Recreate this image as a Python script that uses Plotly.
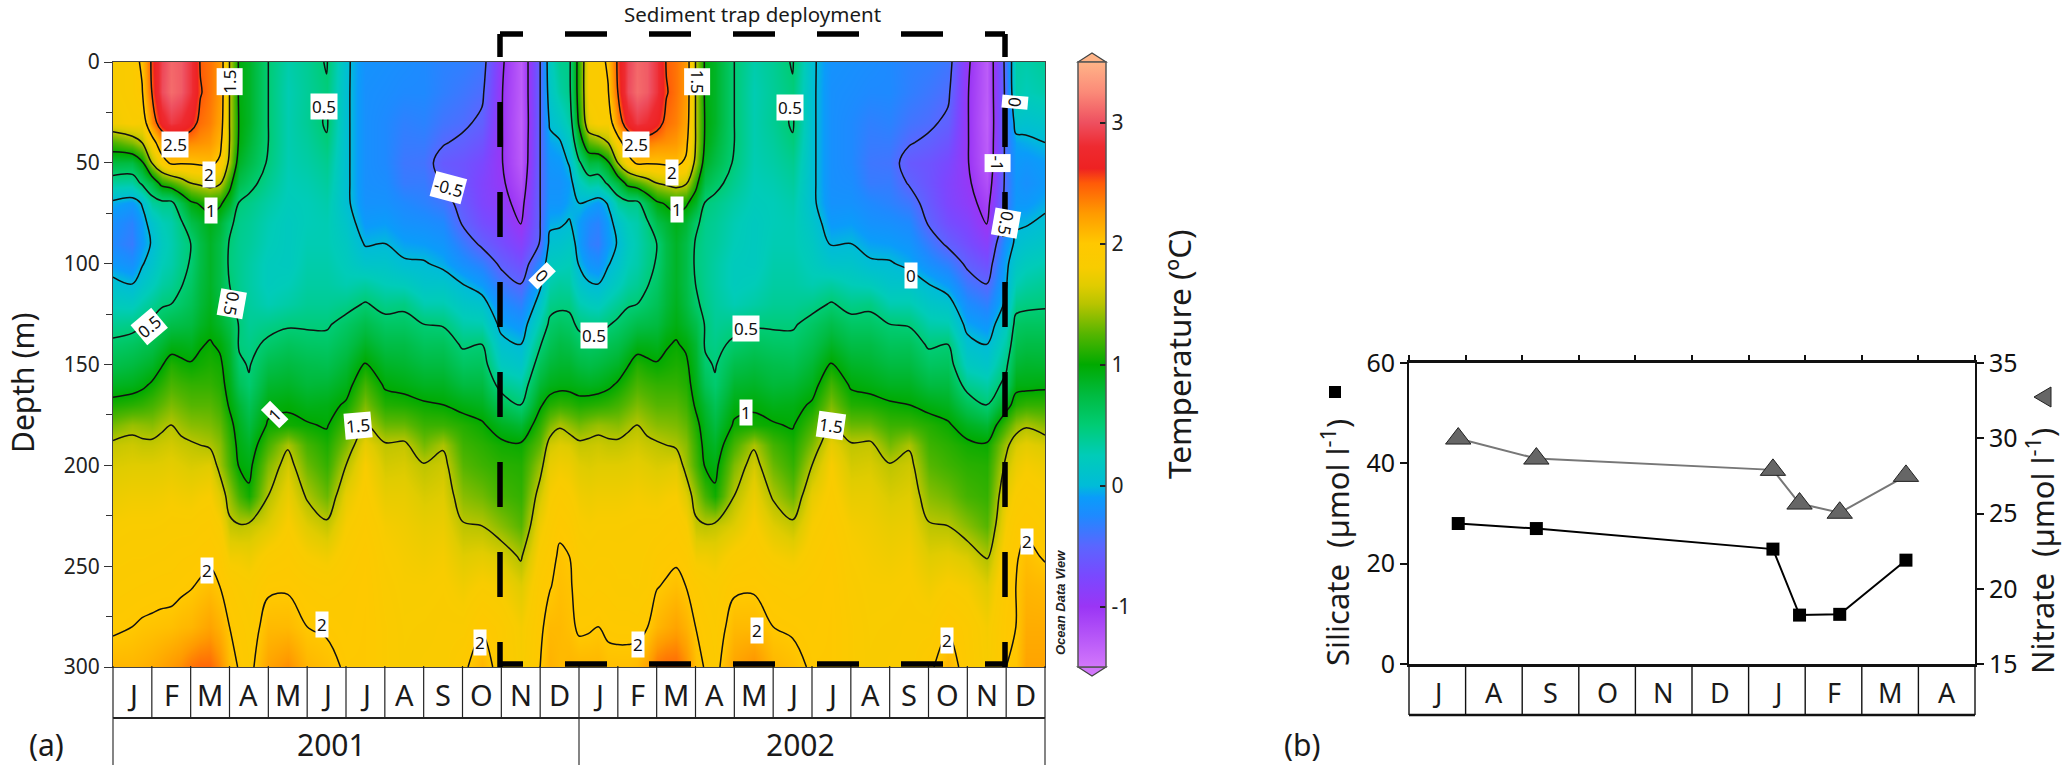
import numpy as np
import plotly.graph_objects as go

W, H = 2067, 766
FONT = "Noto Sans"

# ---------- data, panel (a): temperature profiles ----------
DEPTHS = [0, 15, 30, 40, 50, 60, 70, 80, 90, 100, 110, 120, 130, 140, 150, 160, 170, 180, 190, 200, 215, 230, 245, 260, 280, 300]

P0000 = [1.8,1.8,1.75,1.2,.75,.35,-.05,-.2,-.25,-.12,.06,.22,.39,.55,.7,.87,1.08,1.33,1.55,1.63,1.72,1.8,1.85,1.9,1.97,2.1]
P0050 = [1.87,1.87,1.82,1.35,.73,.33,-.12,-.3,-.35,-.2,0,.2,.42,.6,.75,.9,1.12,1.42,1.58,1.65,1.75,1.82,1.87,1.92,2,2.1]
P0075 = [2.05,1.98,1.8,1.5,.95,.55,.02,-.1,-.12,-.02,.12,.3,.48,.65,.8,.95,1.15,1.4,1.55,1.65,1.75,1.82,1.87,1.93,2.02,2.12]
P0100 = [2.55,2.5,2.3,1.85,1.5,.75,.35,.1,.02,.1,.22,.38,.55,.7,.85,1.03,1.2,1.38,1.55,1.65,1.75,1.82,1.88,1.94,2.03,2.15]
P0125 = [2.95,2.98,2.7,2.2,1.85,1.1,.42,.25,.2,.25,.33,.47,.63,.8,.98,1.13,1.28,1.45,1.58,1.66,1.76,1.83,1.89,1.95,2.04,2.2]
P0150 = [3.1,3.12,2.88,2.35,2.05,1.2,.42,.3,.28,.3,.38,.5,.7,.9,1.1,1.22,1.35,1.5,1.6,1.68,1.78,1.85,1.9,1.95,2.05,2.25]
P0175 = [3.05,3.05,2.8,2.35,2.03,1.35,.7,.45,.4,.42,.48,.57,.72,.9,1.05,1.18,1.3,1.43,1.56,1.65,1.76,1.85,1.92,1.97,2.08,2.3]
P0200 = [2.85,2.85,2.65,2.3,2.03,1.5,.95,.7,.5,.52,.58,.65,.75,.88,1.02,1.15,1.25,1.38,1.53,1.62,1.75,1.85,1.93,1.99,2.1,2.4]
P0225 = [2.48,2.52,2.42,2.28,2.05,1.56,1.03,.8,.72,.72,.75,.78,.85,.98,1.05,1.15,1.25,1.37,1.5,1.63,1.78,1.88,1.95,2.02,2.15,2.45]
P0250 = [2.4,2.4,2.35,2.25,2.07,1.62,1.1,.9,.85,.85,.85,.88,.93,1.02,1.08,1.15,1.25,1.35,1.47,1.65,1.8,1.9,1.97,2.05,2.2,2.45]
P0275 = [2.25,2.25,2.2,2.1,1.95,1.55,1.05,.8,.72,.72,.72,.75,.83,.96,1.05,1.1,1.18,1.28,1.38,1.43,1.65,1.82,1.93,2.0,2.12,2.3]
P0300 = [1.5,1.5,1.5,1.5,1.42,1.1,.85,.55,.48,.46,.5,.55,.7,.8,.85,.9,.97,1.08,1.15,1.2,1.4,1.55,1.75,1.93,2.0,2.05]
P0325 = [.95,.95,.97,.95,.85,.7,.48,.42,.4,.4,.4,.43,.48,.47,.55,.65,.8,.88,.93,.98,1.2,1.52,1.75,1.88,1.95,1.99]
P0350 = [.85,.85,.85,.8,.72,.58,.43,.38,.36,.33,.33,.35,.38,.43,.48,.53,.65,.75,.85,.93,1.05,1.55,1.72,1.85,1.9,1.93]
P0400 = [.5,.5,.5,.5,.47,.4,.32,.27,.25,.22,.22,.27,.42,.55,.7,.82,.93,1.03,1.2,1.35,1.5,1.65,1.85,1.97,2.08,2.2]
P0450 = [.3,.27,.28,.28,.27,.25,.23,.2,.2,.2,.25,.32,.47,.62,.75,.85,.97,1.05,1.47,1.6,1.72,1.82,1.9,1.98,2.08,2.3]
P0500 = [.38,.37,.38,.35,.32,.28,.25,.25,.27,.3,.33,.38,.47,.58,.7,.78,.9,1.02,1.2,1.3,1.47,1.65,1.8,1.93,2.0,2.1]
P0550 = [.52,.47,.53,.47,.4,.35,.3,.27,.27,.3,.33,.38,.47,.57,.68,.8,.92,.98,1.08,1.15,1.3,1.55,1.75,1.9,1.98,2.05]
P0600 = [.05,.05,.05,.05,.05,.05,.05,.12,.18,.22,.28,.42,.58,.68,.8,.9,1.03,1.2,1.35,1.5,1.7,1.8,1.87,1.93,1.95,1.98]
P0650 = [-.18,-.2,-.2,-.2,-.2,-.2,-.18,-.12,-.02,.12,.33,.52,.7,.85,1.02,1.2,1.35,1.52,1.7,1.8,1.85,1.9,1.95,1.97,1.98,1.98]
P0700 = [-.2,-.22,-.25,-.25,-.25,-.22,-.18,-.1,0,.12,.25,.42,.58,.72,.85,.97,1.1,1.3,1.53,1.6,1.7,1.78,1.82,1.85,1.88,1.88]
P0750 = [-.22,-.25,-.32,-.35,-.38,-.35,-.25,-.18,-.08,.03,.22,.45,.58,.72,.82,.93,1.08,1.3,1.55,1.62,1.7,1.75,1.78,1.8,1.82,1.83]
P0800 = [-.25,-.25,-.3,-.35,-.4,-.35,-.3,-.2,-.1,.02,.12,.28,.5,.62,.75,.87,1.03,1.17,1.33,1.52,1.62,1.7,1.75,1.8,1.83,1.85]
P0850 = [-.3,-.32,-.4,-.48,-.6,-.52,-.38,-.25,-.15,-.05,.12,.28,.48,.63,.75,.87,1,1.17,1.47,1.58,1.65,1.72,1.78,1.82,1.85,1.85]
P0900 = [-.32,-.38,-.45,-.55,-.65,-.65,-.6,-.52,-.35,-.2,0,.15,.3,.47,.6,.75,.93,1.1,1.18,1.25,1.38,1.52,1.65,1.75,1.85,1.96]
P0950 = [-.38,-.45,-.55,-.65,-.75,-.8,-.78,-.7,-.55,-.32,-.12,.1,.28,.5,.62,.75,.88,1.03,1.12,1.18,1.32,1.5,1.68,1.82,1.98,2.1]
P1000 = [-.95,-.98,-.98,-.98,-.98,-.95,-.9,-.8,-.7,-.55,-.38,-.22,-.07,.07,.2,.4,.65,.88,1.05,1.12,1.2,1.38,1.62,1.78,1.9,1.92]
P1050 = [-1.3,-1.3,-1.32,-1.3,-1.28,-1.2,-1.1,-1.02,-.85,-.68,-.5,-.32,-.15,0,.13,.32,.5,.8,1.03,1.1,1.15,1.25,1.47,1.65,1.78,1.8]
P1100 = [-.5,-.5,-.5,-.5,-.5,-.5,-.5,-.5,-.48,-.25,-.05,.12,.3,.48,.65,.8,.97,1.13,1.27,1.42,1.6,1.75,1.85,1.92,1.96,2.0]
P1125 = [.2,.15,.04,-.08,-.15,-.18,-.15,-.05,.08,.2,.3,.42,.55,.65,.78,.9,1.1,1.35,1.6,1.7,1.8,1.87,1.93,1.99,2.08,2.12]
P1150 = [.4,.33,.15,-.03,-.12,-.18,-.15,-.03,.1,.22,.35,.45,.6,.73,.82,.93,1.15,1.47,1.65,1.75,1.87,1.96,2.03,2.05,2.08,2.08]
P1175 = [.43,.42,.3,.15,.02,-.1,-.07,.02,.15,.25,.33,.45,.57,.7,.82,.93,1.13,1.4,1.63,1.73,1.83,1.92,2.0,2.03,2.05,2.1]
P1200 = [1.15,1.15,1.05,.8,.45,.2,0,-.1,-.1,-.02,.12,.28,.45,.6,.75,.9,1.08,1.33,1.55,1.65,1.75,1.82,1.87,1.92,1.97,2.1]
P1225 = [1.85,1.85,1.75,1.25,.75,.35,-.05,-.25,-.3,-.15,.02,.22,.42,.58,.72,.88,1.1,1.38,1.56,1.63,1.73,1.8,1.85,1.9,1.98,2.1]
# early 2002 has its 2-degree line deeper than early 2001
P1275 = [2.05,1.98,1.8,1.5,.95,.55,.02,-.1,-.12,-.02,.12,.3,.48,.65,.8,.95,1.15,1.4,1.55,1.65,1.75,1.82,1.87,1.91,1.97,2.05]
P1300 = [2.55,2.5,2.3,1.85,1.5,.75,.35,.1,.02,.1,.22,.38,.55,.7,.85,1.03,1.2,1.38,1.55,1.65,1.75,1.82,1.86,1.88,1.96,2.05]
P1325 = [2.95,2.98,2.7,2.2,1.85,1.1,.42,.25,.2,.25,.33,.47,.63,.8,.98,1.13,1.28,1.45,1.58,1.66,1.76,1.83,1.86,1.88,1.96,2.05]
P1350 = [3.1,3.12,2.88,2.35,2.05,1.2,.42,.3,.28,.3,.38,.5,.7,.9,1.1,1.22,1.35,1.5,1.6,1.68,1.78,1.84,1.86,1.87,1.95,2.08]
P1375 = [3.05,3.05,2.8,2.35,2.03,1.35,.7,.45,.4,.42,.48,.57,.72,.9,1.05,1.18,1.3,1.43,1.56,1.65,1.76,1.85,1.88,1.9,1.99,2.2]
P2300 = [-.4,-.42,-.42,-.42,-.42,-.42,-.4,-.35,-.15,-.05,-.02,.05,.2,.32,.45,.58,.9,1.2,1.45,1.55,1.7,1.8,1.9,1.96,1.98,2.0]
P2325 = [.32,.3,.1,-.08,-.12,-.15,-.13,-.03,.05,.15,.27,.42,.58,.68,.8,.93,1.1,1.4,1.62,1.72,1.83,1.93,1.98,2.0,2.0,2.02]
P2350 = [.3,.25,.08,-.05,-.15,-.2,-.13,-.02,.1,.22,.33,.45,.6,.72,.83,.93,1.15,1.47,1.68,1.78,1.88,1.97,2.05,2.1,2.15,2.2]
P2400 = [.37,.3,.12,0,-.1,-.12,-.05,.05,.15,.27,.38,.47,.6,.72,.82,.95,1.15,1.38,1.62,1.73,1.83,1.9,1.98,2.08,2.15,2.2]

MONTHS_Y1 = [0, .5, .75, 1, 1.25, 1.5, 1.75, 2, 2.25, 2.5, 2.75, 3, 3.25, 3.5, 4, 4.5, 5, 5.5, 6, 6.5, 7, 7.5, 8, 8.5, 9, 9.5, 10, 10.5, 11, 11.25, 11.5, 11.75]
COLS_Y1 = [P0000, P0050, P0075, P0100, P0125, P0150, P0175, P0200, P0225, P0250, P0275, P0300, P0325, P0350, P0400, P0450, P0500, P0550, P0600,
           P0650, P0700, P0750, P0800, P0850, P0900, P0950, P1000, P1050, P1100, P1125, P1150, P1175]
# the second year: same seasonal profiles, its own January start and December end
MONTHS_Y2 = [12, 12.25, 12.5, 12.75, 13, 13.25, 13.5, 13.75] + [m + 12 for m in MONTHS_Y1[7:28]] + [23, 23.25, 23.5, 24]
COLS_Y2 = [P1200, P1225, P0050, P1275, P1300, P1325, P1350, P1375] + COLS_Y1[7:28] + [P2300, P2325, P2350, P2400]

MONTH_LETTERS = list("JFMAMJJASOND")
YEARS = ["2001", "2002"]

# ---------- data, panel (b) ----------
B_MONTHS = list("JASONDJFMA")
SAMPLE_POS = [0.87, 2.25, 6.43, 6.90, 7.61, 8.78]
SILICATE = [28.0, 27.0, 22.9, 9.75, 9.9, 20.7]
NITRATE = [29.98, 28.65, 27.9, 25.66, 25.05, 27.5]

# contour labels: text, month position, depth, angle
LABELS = [
    ("2.5",1.6,40.7,0),("2",2.48,55.7,0),("1",2.52,73.4,0),("1.5",3.01,9.8,-90),("0.5",5.43,22,0),
    ("-0.5",8.63,62,15),("0",11.04,106,45),("0.5",3.07,120,100),("0.5",.93,131,-40),("1",4.17,175,-45),
    ("1.5",6.32,180,-5),("2",2.43,252,0),("2",5.38,279,0),("2",9.45,288,0),
    ("2.5",13.48,40.7,0),("2",14.4,55,0),("1",14.53,73,0),("1.5",15.05,10,90),("0.5",17.43,22.6,0),
    ("0",20.56,106,0),("0.5",12.39,135.5,0),("0.5",16.31,132,0),("1",16.29,174,0),("1.5",18.5,180,8),
    ("2",13.52,289,0),("2",16.58,282,0),("2",21.48,287,0),("2",23.54,238,0),
    ("-1",22.77,50,90),("0",23.23,20,95),("0.5",23.0,80,100),
]

COLORSCALE_STOPS = [
    (-1.5,"#d277fb"),(-1.0,"#9a35f5"),(-.75,"#7a48ff"),(-.5,"#5a66ff"),(-.25,"#1e8aff"),(-.1,"#0a9cfa"),
    (0,"#00bcd8"),(.25,"#00ccb8"),(.5,"#00cc74"),(.75,"#00bb40"),(1,"#00aa00"),(1.25,"#55b500"),
    (1.5,"#b8c400"),(1.65,"#e0cc00"),(1.8,"#f8cc00"),(2,"#ffc800"),(2.25,"#ff9a00"),(2.5,"#ff5a08"),(2.62,"#ee2222"),
    (2.8,"#ee2a30"),(3,"#ee5060"),(3.25,"#fb8a78"),(3.5,"#ffb488"),
]

# ---------- build ----------
x_m = list(MONTHS_Y1) + list(MONTHS_Y2)
z = np.array(list(COLS_Y1) + list(COLS_Y2)).T
cs = [[(v + 1.5) / 5, c] for v, c in COLORSCALE_STOPS]

xp = lambda px: px / W
yp = lambda py: 1 - py / H

fig = go.Figure()
fig.add_trace(go.Heatmap(
    x=x_m, y=DEPTHS, z=z, zsmooth="best", colorscale=cs, zmin=-1.5, zmax=3.5, xaxis="x", yaxis="y",
    hoverinfo="skip",
    colorbar=dict(x=xp(1078), xanchor="left", y=yp(364.5), yanchor="middle", len=605 / H, lenmode="fraction",
                  thickness=28, thicknessmode="pixels", xpad=0, ypad=0, outlinecolor="#555", outlinewidth=1.5,
                  tickvals=[-1, 0, 1, 2, 3], ticktext=["-1", "0", "1", "2", "3"], ticks="inside", ticklen=6, tickcolor="#222", tickwidth=1.5,
                  tickfont=dict(family=FONT, size=21, color="#222")),
))
fig.add_trace(go.Contour(
    x=x_m, y=DEPTHS, z=z, xaxis="x", yaxis="y", showscale=False, hoverinfo="skip",
    autocontour=False, contours=dict(start=-1, end=2.5, size=.5, coloring="none"),
    line=dict(color="#111", width=1.5, smoothing=1.0),
))
fig.add_trace(go.Scatter(
    x=SAMPLE_POS, y=NITRATE, xaxis="x2", yaxis="y3", mode="lines+markers", showlegend=False,
    line=dict(color="#777", width=2),
    marker=dict(symbol="triangle-up", size=22, color="#666", line=dict(color="#222", width=1)),
))
fig.add_trace(go.Scatter(
    x=SAMPLE_POS, y=SILICATE, xaxis="x2", yaxis="y2", mode="lines+markers", showlegend=False,
    line=dict(color="#000", width=2),
    marker=dict(symbol="square", size=13, color="#000"),
))

shapes, ann = [], []
def paper_line(x0, y0, x1, y1, color="#222", width=1.0, dash="solid"):
    shapes.append(dict(type="line", xref="paper", yref="paper", x0=xp(x0), x1=xp(x1), y0=yp(y0), y1=yp(y1),
                       line=dict(color=color, width=width, dash=dash)))
def text(t, x, y, size, angle=0, color="#1a1a1a", **kw):
    ann.append(dict(text=t, xref="paper", yref="paper", x=xp(x), y=yp(y), showarrow=False, textangle=angle,
                    font=dict(family=kw.pop("family", FONT), size=size, color=color),
                    xanchor="center", yanchor="middle", **kw))

# panel (a) month boxes and year row
mw = 932 / 24
for i in range(25):
    paper_line(113 + i * mw, 666, 113 + i * mw, 718, "#222", 1.2)
    if i < 24:
        text(MONTH_LETTERS[i % 12], 113 + (i + .5) * mw, 694, 29)
paper_line(113, 718, 1045, 718, "#222", 2.2)
for px in (113, 579, 1045):
    paper_line(px, 718, px, 765, "#333", 1.2)
for y, px in zip(YEARS, (331, 800)):
    text(y, px, 744, 30)
text("(a)", 46, 744, 30)

# contour labels
for t, m, d, a in LABELS:
    ann.append(dict(text=t, x=m, y=d, xref="x", yref="y", showarrow=False, textangle=a, bgcolor="white",
                    font=dict(family=FONT, size=17, color="#111"), borderpad=1))

# sediment-trap box
hd = ",".join(["23px"] + ["42px"] * 24)
vd = ",".join(["23px"] + ["45px"] * 26)
paper_line(500, 34, 1005, 34, "#000", 5.5, hd)
paper_line(500, 664, 1005, 664, "#000", 5.5, hd)
paper_line(500, 34, 500, 667, "#000", 5.5, vd)
paper_line(1005, 34, 1005, 667, "#000", 5.5, vd)
text("Sediment trap deployment", 752, 14, 20.5)
text("<b><i>Ocean Data View</i></b>", 1060, 603, 13, -90, "#222", family="Liberation Sans")

# axis titles
text("Depth (m)", 22, 383, 30, -90)
text("Temperature (ºC)", 1178, 354, 31.5, -90)

# colour bar pointed ends
shapes.append(dict(type="path", xref="paper", yref="paper", fillcolor="#ffb488", line=dict(color="#444", width=1.2),
                   path=f"M {xp(1078)} {yp(62)} L {xp(1092)} {yp(53)} L {xp(1106)} {yp(62)} Z"))
shapes.append(dict(type="path", xref="paper", yref="paper", fillcolor="#d277fb", line=dict(color="#444", width=1.2),
                   path=f"M {xp(1078)} {yp(667)} L {xp(1092)} {yp(676)} L {xp(1106)} {yp(667)} Z"))
for v in (-1, 0, 1, 2, 3):
    py = 485 - 121 * v
    paper_line(1078, py, 1084, py, "#222", 1.5)

# panel (b) month boxes
bw = 566 / 10
for i in range(11):
    paper_line(1409 + i * bw, 664, 1409 + i * bw, 715, "#111", 1.4)
    if i < 10:
        text(B_MONTHS[i], 1409 + (i + .5) * bw, 692, 27)
paper_line(1409, 715, 1975, 715, "#111", 2.5)
text("(b)", 1302, 744, 30)
text("Silicate  (µmol l<sup>-1</sup>)", 1335, 543, 31, -90)
text("Nitrate  (µmol l<sup>-1</sup>)", 2040, 551, 31, -90)
shapes.append(dict(type="rect", xref="paper", yref="paper", fillcolor="#000", line=dict(width=0),
                   x0=xp(1329), x1=xp(1341), y0=yp(386), y1=yp(398)))
shapes.append(dict(type="path", xref="paper", yref="paper", fillcolor="#666", line=dict(color="#222", width=1),
                   path=f"M {xp(2034)} {yp(397)} L {xp(2051)} {yp(387)} L {xp(2051)} {yp(407)} Z"))

tick = dict(family=FONT, size=21, color="#222")
tickb = dict(family=FONT, size=25, color="#111")
fig.update_layout(
    width=W, height=H, margin=dict(l=0, r=0, t=0, b=0, autoexpand=False), paper_bgcolor="white", plot_bgcolor="white",
    showlegend=False, shapes=shapes, annotations=ann,
    xaxis=dict(domain=[xp(113), xp(1045)], range=[0, 24], showticklabels=False, ticks="", showgrid=False, zeroline=False,
               showline=True, linecolor="#444", linewidth=1.2, mirror=True),
    yaxis=dict(domain=[yp(667), yp(62)], range=[300, 0], tickvals=[0, 50, 100, 150, 200, 250, 300], ticks="outside",
               ticklen=8, tickcolor="#333", tickfont=tick, showgrid=False, zeroline=False,
               minor=dict(tickvals=[25, 75, 125, 175, 225, 275], ticks="outside", ticklen=6, tickcolor="#333"),
               showline=True, linecolor="#444", linewidth=1.2, mirror=True),
    xaxis2=dict(domain=[xp(1409), xp(1975)], range=[0, 10], anchor="y2", side="top", tickvals=list(range(0, 11)),
                ticks="outside", ticklen=5, tickcolor="#111", tickwidth=1.5, showticklabels=False, showgrid=False,
                zeroline=False, showline=True, linecolor="#111", linewidth=2.5, mirror=True),
    yaxis2=dict(domain=[yp(664), yp(363)], range=[0, 60], anchor="x2", tickvals=[0, 20, 40, 60], ticks="outside",
                ticklen=7, tickcolor="#111", tickwidth=1.5, tickfont=tickb, showgrid=False, zeroline=False,
                showline=True, linecolor="#111", linewidth=2),
    yaxis3=dict(domain=[yp(664), yp(363)], range=[15, 35], anchor="x2", overlaying="y2", side="right",
                tickvals=[15, 20, 25, 30, 35], ticks="outside", ticklen=7, tickcolor="#111", tickwidth=1.5, tickfont=tickb,
                showgrid=False, zeroline=False, showline=True, linecolor="#111", linewidth=2),
)
fig.write_html("out.html", config={"displayModeBar": False}, post_script="document.body.style.margin='0';")
